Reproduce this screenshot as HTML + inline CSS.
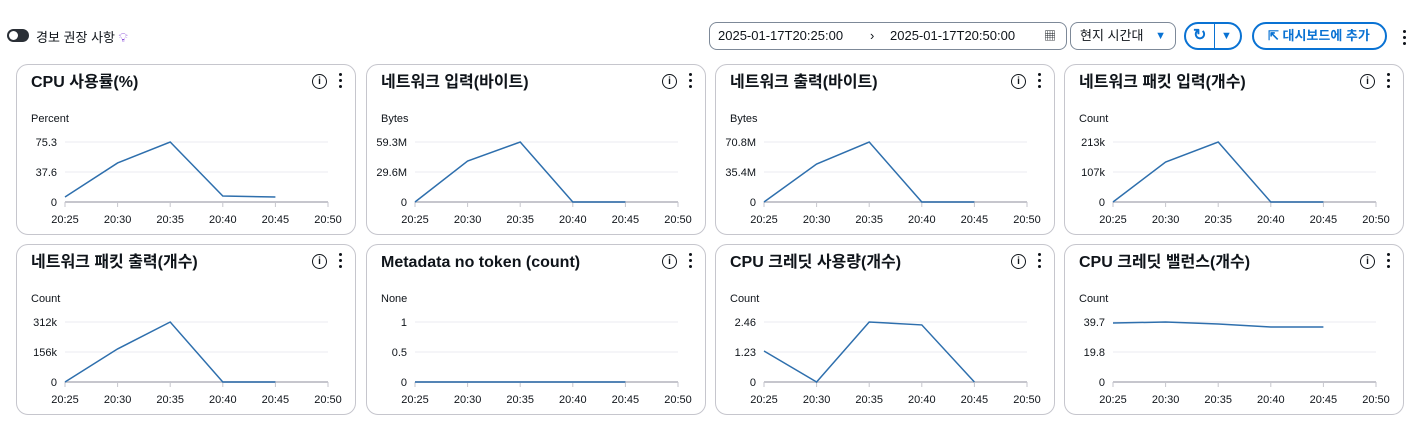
<!DOCTYPE html>
<html><head><meta charset="utf-8">
<style>
body{margin:0;width:1413px;height:423px;background:#fff;font-family:"Liberation Sans","Noto Sans CJK KR",sans-serif;color:#0f141a;position:relative;overflow:hidden}
.abs{position:absolute}
.panel{position:absolute;width:340px;height:171px;border:1px solid #c6c6cd;border-radius:12px;box-sizing:border-box;background:#fff}
.title{position:absolute;left:14px;top:8px;font-size:16px;line-height:20px;font-weight:bold;font-family:"Liberation Sans","Noto Sans CJK KR",sans-serif}
.info{position:absolute;right:28px;top:9px;width:13px;height:13px;border:1.6px solid #0f141a;border-radius:50%;font-size:10px;font-weight:bold;text-align:center;line-height:13px}
.dots{position:absolute;right:12px;top:8px;width:4px}
.dots i{display:block;width:3px;height:3px;background:#0f141a;border-radius:50%;margin:0 0 3px}
.btn{position:absolute;border:1px solid #7d8998;border-radius:8px;box-sizing:border-box;font-size:13px;line-height:26px}
svg text{font-family:"Liberation Sans",sans-serif;font-size:11px;fill:#0f141a}
</style></head><body>
<div class="abs" style="left:7px;top:29px;width:22px;height:13px;border-radius:7px;background:#2a2f36"><div style="position:absolute;left:2px;top:2px;width:9px;height:9px;border-radius:50%;background:#fff"></div></div>
<div class="abs" style="left:36px;top:27px;font-size:13px">경보 권장 사항 <span style="color:#8b4fd9">&#x1F4A1;&#xFE0E;</span></div>
<div class="btn" style="left:709px;top:22px;width:358px;height:28px;padding-left:8px">2025-01-17T20:25:00<span style="position:absolute;left:160px">›</span><span style="position:absolute;left:180px">2025-01-17T20:50:00</span><span style="position:absolute;left:334px;font-size:12px">▦</span></div>
<div class="btn" style="left:1070px;top:22px;width:106px;height:28px;padding-left:9px">현지 시간대<span style="position:absolute;right:9px;color:#0972d3;font-size:11px">▼</span></div>
<div class="btn" style="left:1184px;top:22px;width:58px;height:28px;border:2px solid #0972d3;border-radius:14px;color:#0972d3;font-weight:bold;line-height:24px"><span style="position:absolute;left:7px;font-size:16px">↻</span><span style="position:absolute;left:28px;top:0;width:1px;height:24px;background:#0972d3"></span><span style="position:absolute;left:35px;font-size:11px">▼</span></div>
<div class="btn" style="left:1252px;top:22px;width:135px;height:28px;border:2px solid #0972d3;border-radius:14px;color:#0972d3;font-weight:bold;line-height:24px;padding-left:14px">⇱ 대시보드에 추가</div>
<div class="abs dots" style="left:1403px;top:30px"><i></i><i></i><i></i></div>
<div id="root"></div>
<script>
const panelTitles=["CPU 사용률(%)","네트워크 입력(바이트)","네트워크 출력(바이트)","네트워크 패킷 입력(개수)","네트워크 패킷 출력(개수)","Metadata no token (count)","CPU 크레딧 사용량(개수)","CPU 크레딧 밸런스(개수)"];
const units=["Percent","Bytes","Bytes","Count","Count","None","Count","Count"];
const yMax=[75.3,59.3,70.8,213,312,1,2.46,39.7];
const yTickLabels=[["0","37.6","75.3"],["0","29.6M","59.3M"],["0","35.4M","70.8M"],["0","107k","213k"],["0","156k","312k"],["0","0.5","1"],["0","1.23","2.46"],["0","19.8","39.7"]];
const xLabels=["20:25","20:30","20:35","20:40","20:45","20:50"];
const s0=[6.3,49,75.3,7.5,6.3];
const s1=[0,40.5,59.3,0,0];
const s2=[0,44.8,70.8,0,0];
const s3=[0,142,213,0,0];
const s4=[0,172,312,0,0];
const s5=[0,0,0,0,0];
const s6=[1.27,0,2.46,2.34,0];
const s7=[39.0,39.7,38.4,36.4,36.4];
const series=[s0,s1,s2,s3,s4,s5,s6,s7];
const lefts=[16,366,715,1064];
const root=document.getElementById('root');
const NS="http://www.w3.org/2000/svg";
for(let p=0;p<8;p++){
  const top=p<4?64:244, left=lefts[p%4];
  const d=document.createElement('div');d.className='panel';
  
  
  d.style.left=left+'px';d.style.top=top+'px';
  d.innerHTML='<div class="title">'+panelTitles[p]+'</div>';
  const inf=document.createElement('div');inf.className='info';inf.textContent='i';
  
  
  d.appendChild(inf);
  const m=document.createElement('div');m.className='dots';m.innerHTML='<i></i><i></i><i></i>';
  
  
  d.appendChild(m);
  const svg=document.createElementNS(NS,'svg');
  svg.setAttribute('width','338');svg.setAttribute('height','169');
  svg.style.position='absolute';svg.style.left='0';svg.style.top='0';
  const x0=48,x1=311,yb=137,yt=77;
  const xs=i=>x0+(x1-x0)*i/5;
  const ys=v=>yb-(yb-yt)*v/yMax[p];
  let h='<text x="14" y="57">'+units[p]+'</text>';
  for(let k=0;k<3;k++){
    const yy=yb-(yb-yt)*k/2;
    h+='<line x1="'+x0+'" x2="'+x1+'" y1="'+yy+'" y2="'+yy+'" stroke="'+(k?'#ebebf0':'#c6c6cd')+'" stroke-width="'+(k?1:2)+'"/>';
    h+='<text x="'+(x0-8)+'" y="'+(yy+4)+'" text-anchor="end">'+yTickLabels[p][k]+'</text>';
  }
  xLabels.forEach((l,i)=>{h+='<line x1="'+xs(i)+'" x2="'+xs(i)+'" y1="'+yb+'" y2="'+(yb+5)+'" stroke="#c6c6cd"/><text x="'+xs(i)+'" y="'+(yb+21)+'" text-anchor="middle">'+l+'</text>';});
  svg.innerHTML=h;
  const pl=document.createElementNS(NS,'polyline');
  pl.setAttribute('points',series[p].map((v,i)=>xs(i)+','+ys(v)).join(' '));
  pl.setAttribute('fill','none');pl.setAttribute('stroke','#2e6fad');pl.setAttribute('stroke-width','1.5');
  
  
  svg.appendChild(pl);
  d.appendChild(svg);
  root.appendChild(d);
}
</script>
</body></html>
